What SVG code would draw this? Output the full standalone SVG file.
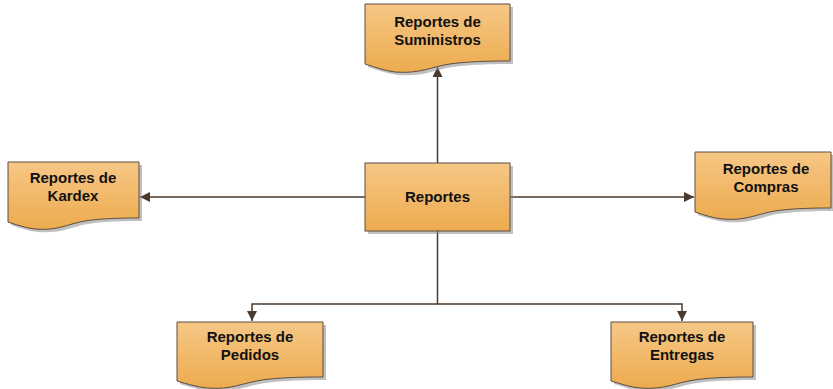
<svg xmlns="http://www.w3.org/2000/svg" width="833" height="389" viewBox="0 0 833 389">
<defs>
<linearGradient id="g" x1="0" y1="0" x2="0" y2="1">
<stop offset="0" stop-color="#F6C786"/>
<stop offset="1" stop-color="#EDAB4E"/>
</linearGradient>
<marker id="ah" viewBox="0 0 10 10" refX="10" refY="5" markerWidth="10" markerHeight="10" markerUnits="userSpaceOnUse" orient="auto">
<path d="M0,0 L10,5 L0,10 Z" fill="#4A3A2E"/>
</marker>
</defs>
<style>
.sh{fill:#8c8c8c;opacity:0.55}
.bx{fill:url(#g);stroke:#5E4D3F;stroke-width:1}
.t{font-family:"Liberation Sans",Arial,sans-serif;font-weight:700;font-size:15px;fill:#111;text-anchor:middle}
.c{fill:none;stroke:#4A3A2E;stroke-width:1.5}
</style>
<g id="connectors">
<line class="c" x1="437.5" y1="163" x2="437.5" y2="67" marker-end="url(#ah)"/>
<line class="c" x1="365" y1="197" x2="140" y2="197" marker-end="url(#ah)"/>
<line class="c" x1="510" y1="197" x2="694" y2="197" marker-end="url(#ah)"/>
<polyline class="c" points="437.5,231 437.5,304 252,304 252,321" marker-end="url(#ah)"/>
<polyline class="c" points="437.5,304 682,304 682,321" marker-end="url(#ah)"/>
</g>
<g id="reportes">
<rect class="sh" x="368" y="166" width="145" height="68"/>
<rect class="bx" x="365" y="163" width="145" height="68"/>
<text class="t" x="437.5" y="202">Reportes</text>
</g>
<g id="suministros">
<path class="sh" transform="translate(3,3)" d="M365,4 H510 V61 C500,61 470,61 450,64 C430,67 420,74 395,72 C385,71 375,67 365,64 Z"/>
<path class="bx" d="M365,4 H510 V61 C500,61 470,61 450,64 C430,67 420,74 395,72 C385,71 375,67 365,64 Z"/>
<text class="t" x="437.5" y="27">Reportes de</text>
<text class="t" x="437.5" y="45">Suministros</text>
</g>
<g id="kardex">
<path class="sh" transform="translate(3,3)" d="M8,162 H139 V218 C130,218 103,218 85,221 C67,224 58,231 35,229 C26,228 17,225 8,222 Z"/>
<path class="bx" d="M8,162 H139 V218 C130,218 103,218 85,221 C67,224 58,231 35,229 C26,228 17,225 8,222 Z"/>
<text class="t" x="73" y="183">Reportes de</text>
<text class="t" x="73" y="201">Kardex</text>
</g>
<g id="compras">
<path class="sh" transform="translate(3,3)" d="M695,152 H831 V208 C822,208 794,208 775,211 C756,214 747,221 723,219 C713,218 704,215 695,212 Z"/>
<path class="bx" d="M695,152 H831 V208 C822,208 794,208 775,211 C756,214 747,221 723,219 C713,218 704,215 695,212 Z"/>
<text class="t" x="766" y="174">Reportes de</text>
<text class="t" x="766" y="192">Compras</text>
</g>
<g id="pedidos">
<path class="sh" transform="translate(3,3)" d="M177,322 H323 V377 C313,377 283,377 262,380 C242,383 232,390 207,388 C197,387 187,384 177,381 Z"/>
<path class="bx" d="M177,322 H323 V377 C313,377 283,377 262,380 C242,383 232,390 207,388 C197,387 187,384 177,381 Z"/>
<text class="t" x="250" y="342">Reportes de</text>
<text class="t" x="250" y="360">Pedidos</text>
</g>
<g id="entregas">
<path class="sh" transform="translate(3,3)" d="M611,322 H753 V377 C743,377 714,377 694,380 C674,383 665,390 640,388 C630,387 621,384 611,381 Z"/>
<path class="bx" d="M611,322 H753 V377 C743,377 714,377 694,380 C674,383 665,390 640,388 C630,387 621,384 611,381 Z"/>
<text class="t" x="682" y="342">Reportes de</text>
<text class="t" x="682" y="360">Entregas</text>
</g>
</svg>
